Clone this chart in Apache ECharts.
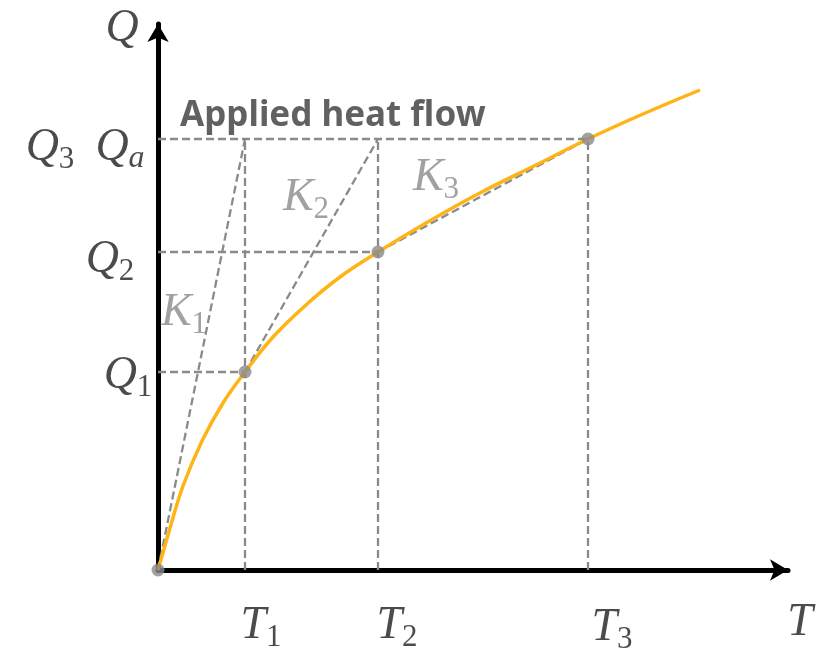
<!DOCTYPE html>
<html>
<head>
<meta charset="utf-8">
<script src="https://cdn.jsdelivr.net/npm/echarts@6/dist/echarts.min.js"></script>
<style>
  html, body { margin: 0; padding: 0; background: #fff; }
  #chart { width: 828px; height: 648px; }
</style>
</head>
<body>
<div id="chart"></div>
<script>
// heating curve (T, Q)
const curveT = [0, 4, 12, 25, 44, 65, 87, 115, 149, 182, 220, 268, 320, 380, 430, 485, 542];
const curveQ = [0, 14, 42, 84, 129, 167, 198, 233, 266, 293, 318, 347, 376, 406, 431, 456, 480];

// iteration points
const stepT = [87, 220, 430];   // T1, T2, T3
const stepQ = [198, 318, 431];  // Q1, Q2, Q3 (= Qa)
const appliedQ = 431;

const axisMaxT = 630;
const axisMaxQ = 546;

const GRAY = '#8a8a8a';
const TEXT = '#1e1e1e';
const ORANGE = '#ffb314';
const MATH_FONT = 'Liberation Serif';

const curveData = curveT.map((t, i) => [t, curveQ[i]]);
const pointData = [[0, 0]].concat(stepT.map((t, i) => [t, stepQ[i]]));

// dashed guide segments
const segments = [
    [[0, appliedQ], [stepT[2], appliedQ]],
    [[0, stepQ[1]], [stepT[1], stepQ[1]]],
    [[0, stepQ[0]], [stepT[0], stepQ[0]]],
    [[stepT[0], 0], [stepT[0], appliedQ]],
    [[stepT[1], 0], [stepT[1], appliedQ]],
    [[stepT[2], 0], [stepT[2], appliedQ]],
    // K1, K2, K3
    [[0, 0], [stepT[0], appliedQ]],
    [[stepT[0], stepQ[0]], [stepT[1], appliedQ]],
    [[stepT[1], stepQ[1]], [stepT[2], stepQ[2]]]
];

const mathRich = (color) => ({
    m: {fontFamily: MATH_FONT, fontStyle: 'italic', fontSize: 46, color, lineHeight: 50, verticalAlign: 'top'},
    mi: {fontFamily: MATH_FONT, fontStyle: 'italic', fontSize: 32, color, lineHeight: 30, verticalAlign: 'bottom'},
    s: {fontFamily: MATH_FONT, fontSize: 31, color, lineHeight: 30, verticalAlign: 'bottom'}
});

// text labels: [T, Q, text, color]
const labels = [
    [-36, 539, '{m|Q}', TEXT],
    [-108, 420, '{m|Q}{s|3}', TEXT],
    [-38, 420, '{m|Q}{mi|a}', TEXT],
    [-48, 308, '{m|Q}{s|2}', TEXT],
    [-30, 192, '{m|Q}{s|1}', TEXT],
    [103, -58, '{m|T}{s|1}', TEXT],
    [239, -58, '{m|T}{s|2}', TEXT],
    [454, -60, '{m|T}{s|3}', TEXT],
    [642, -55, '{m|T}', TEXT],
    [26, 255, '{m|K}{s|1}', GRAY],
    [148, 370, '{m|K}{s|2}', GRAY],
    [278, 390, '{m|K}{s|3}', GRAY]
];

const chart = echarts.init(document.getElementById('chart'));

const series = [];
segments.forEach(seg => {
    series.push({
        type: 'line',
        data: seg,
        symbol: 'none',
        silent: true,
        lineStyle: {color: GRAY, width: 2.3, type: [8, 4]},
        z: 2
    });
});
series.push({
    type: 'line',
    data: curveData,
    smooth: 0.4,
    symbol: 'none',
    lineStyle: {color: ORANGE, width: 3.5},
    z: 3
});
series.push({
    type: 'scatter',
    data: pointData,
    symbolSize: 13,
    itemStyle: {color: GRAY},
    clip: false,
    z: 4
});
series.push({
    type: 'scatter',
    clip: false,
    symbolSize: 0,
    silent: true,
    z: 5,
    data: labels.map(l => ({
        value: [l[0], l[1]],
        label: {
            show: true,
            position: 'inside',
            formatter: l[2],
            rich: mathRich(l[3])
        }
    }))
});
series.push({
    type: 'scatter',
    clip: false,
    symbolSize: 0,
    silent: true,
    z: 5,
    data: [{
        value: [22, 454],
        label: {
            show: true,
            position: 'right',
            distance: 0,
            formatter: 'Applied heat flow',
            fontFamily: 'Noto Sans',
            fontWeight: 'bold',
            fontSize: 35,
            color: '#3a3a3a'
        }
    }]
});

chart.setOption({
    animation: false,
    backgroundColor: '#fff',
    grid: {left: 158, top: 24, width: axisMaxT, height: axisMaxQ},
    xAxis: {
        type: 'value',
        min: 0,
        max: axisMaxT,
        splitLine: {show: false},
        axisTick: {show: false},
        axisLabel: {show: false},
        axisLine: {
            show: true,
            symbol: ['none', 'arrow'],
            symbolSize: [16, 18],
            lineStyle: {color: '#000', width: 5}
        }
    },
    yAxis: {
        type: 'value',
        min: 0,
        max: axisMaxQ,
        splitLine: {show: false},
        axisTick: {show: false},
        axisLabel: {show: false},
        axisLine: {
            show: true,
            symbol: ['none', 'arrow'],
            symbolSize: [16, 18],
            lineStyle: {color: '#000', width: 5}
        }
    },
    series
});
</script>
</body>
</html>
